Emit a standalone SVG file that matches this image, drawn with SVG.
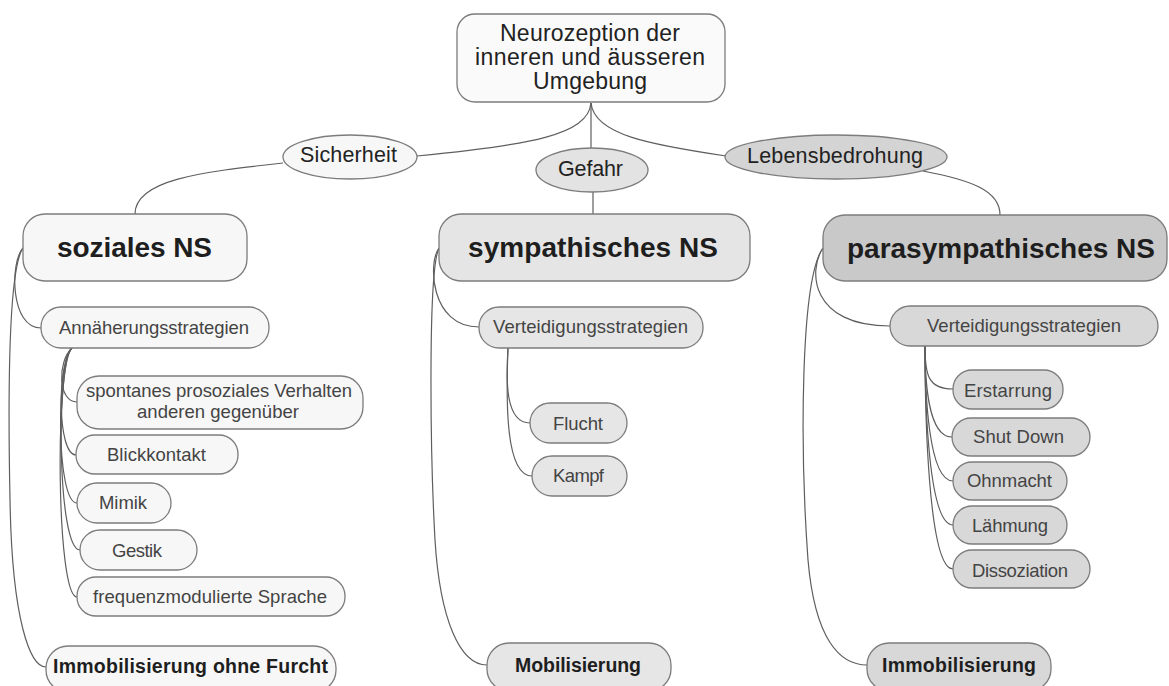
<svg xmlns="http://www.w3.org/2000/svg" width="1169" height="686" viewBox="0 0 1169 686">
<style>
.box{stroke:#7c7c7c;stroke-width:1.3}
.w{fill:#f7f7f7}.g1{fill:#e6e6e6}.g2{fill:#d8d8d8}.g3{fill:#c9c9c9}
.t{font-family:"Liberation Sans",Arial,sans-serif;text-anchor:middle}
.big{font-size:28px;font-weight:bold;fill:#1e1e1e}
.hd{font-size:23px;fill:#222}
.el{font-size:21.5px;fill:#222}
.c{font-size:18.5px;fill:#444}
.b{font-size:19.5px;font-weight:bold;fill:#1e1e1e}
.con path{fill:none;stroke:#5e5e5e;stroke-width:1.2}
</style>
<rect width="1169" height="686" fill="#ffffff"/>
<g class="con" id="connectors">
<path d="M591,103 C588,135 530,145 417,156"/>
<path d="M591,103 L591,148"/>
<path d="M591,103 C594,135 652,145 726,156"/>
<path d="M283,163 C200,172 135,180 135,214"/>
<path d="M593,192 L593,214"/>
<path d="M923,171 C970,180 1000,190 1000,215"/>
<path d="M23,248 C10,262 10,328 41,328"/>
<path d="M23,248 C8,270 8,400 10,500 C12,620 30,667 46,667"/>
<path d="M72,348 C57,362 58,402 77,402"/>
<path d="M72,348 C57,362 57,455 76,455"/>
<path d="M72,348 C56,362 56,503 77,503"/>
<path d="M72,348 C56,362 57,550 80,550"/>
<path d="M72,348 C55,362 56,597 77,597"/>
<path d="M439,248 C428,262 430,327 479,327"/>
<path d="M439,248 C428,270 430,450 435,540 C440,620 460,665 487,665"/>
<path d="M508,348 C506,380 505,423 530,423"/>
<path d="M508,348 C506,400 505,476 532,476"/>
<path d="M823,248 C808,270 810,326 890,326"/>
<path d="M823,248 C800,280 800,450 808,560 C815,640 840,665 867,665"/>
<path d="M925,346 C925,375 928,389 953,389"/>
<path d="M925,346 C925,380 928,437 952,437"/>
<path d="M925,346 C925,390 928,481 953,481"/>
<path d="M925,346 C925,400 928,525 953,525"/>
<path d="M925,346 C925,410 928,569 953,569"/>
</g>
<g id="root"><rect class="box" x="457" y="14" width="268" height="88" rx="18" fill="#fafafa"/>
<text class="t hd" x="590" y="41" textLength="180">Neurozeption der</text>
<text class="t hd" x="590" y="65" textLength="230">inneren und äusseren</text>
<text class="t hd" x="590" y="89" textLength="114">Umgebung</text></g>
<g id="sicherheit"><ellipse class="box w" cx="350" cy="157" rx="67" ry="22"/><text class="t el" x="348.5" y="162" textLength="97">Sicherheit</text></g>
<g id="gefahr"><ellipse class="box" fill="#e3e3e3" cx="592" cy="170" rx="56" ry="22"/><text class="t el" x="590.5" y="176" textLength="65">Gefahr</text></g>
<g id="lebensbedrohung"><ellipse class="box" fill="#d4d4d4" cx="836" cy="157" rx="111" ry="22"/><text class="t el" x="835" y="163" textLength="176">Lebensbedrohung</text></g>
<g id="soziales"><rect class="box w" x="23" y="214" width="224" height="67" rx="22"/><text class="t big" x="134.5" y="257" textLength="155">soziales NS</text></g>
<g id="sympathisches"><rect class="box" fill="#e5e5e5" x="439" y="214" width="311" height="67" rx="22"/><text class="t big" x="593" y="257" textLength="250">sympathisches NS</text></g>
<g id="parasympathisches"><rect class="box g3" x="823" y="215" width="344" height="66" rx="22"/><text class="t big" x="1001" y="258" textLength="308">parasympathisches NS</text></g>
<g id="annaeherung"><rect class="box w" x="41" y="307" width="228" height="41" rx="20"/><text class="t c" x="154" y="334" textLength="190">Annäherungsstrategien</text></g>
<g id="spontanes"><rect class="box w" x="77" y="376" width="286" height="53" rx="22"/><text class="t c" x="219" y="397" textLength="266">spontanes prosoziales Verhalten</text><text class="t c" x="218" y="418" textLength="162">anderen gegenüber</text></g>
<g id="blickkontakt"><rect class="box w" x="76" y="435" width="162" height="39" rx="19"/><text class="t c" x="156.5" y="461" textLength="99">Blickkontakt</text></g>
<g id="mimik"><rect class="box w" x="77" y="483" width="94" height="40" rx="20"/><text class="t c" x="123" y="509" textLength="48">Mimik</text></g>
<g id="gestik"><rect class="box w" x="80" y="530" width="117" height="40" rx="20"/><text class="t c" x="137" y="557" textLength="50">Gestik</text></g>
<g id="frequenz"><rect class="box w" x="77" y="577" width="268" height="39" rx="19"/><text class="t c" x="210" y="603" textLength="234">frequenzmodulierte Sprache</text></g>
<g id="immob-ohne-furcht"><rect class="box w" x="46" y="646" width="290" height="46" rx="22"/><text class="t b" x="190.5" y="673" textLength="275">Immobilisierung ohne Furcht</text></g>
<g id="verteidigung-sym"><rect class="box g1" x="479" y="307" width="224" height="41" rx="20"/><text class="t c" x="590.5" y="333" textLength="195">Verteidigungsstrategien</text></g>
<g id="flucht"><rect class="box g1" x="530" y="403" width="97" height="40" rx="20"/><text class="t c" x="578" y="430" textLength="50">Flucht</text></g>
<g id="kampf"><rect class="box g1" x="532" y="456" width="95" height="40" rx="20"/><text class="t c" x="578.5" y="482" textLength="51">Kampf</text></g>
<g id="mobilisierung"><rect class="box g1" x="487" y="643" width="184" height="48" rx="22"/><text class="t b" x="578" y="672" textLength="126">Mobilisierung</text></g>
<g id="verteidigung-para"><rect class="box g2" x="890" y="306" width="268" height="40" rx="20"/><text class="t c" x="1024" y="332" textLength="194">Verteidigungsstrategien</text></g>
<g id="erstarrung"><rect class="box g2" x="953" y="370" width="110" height="39" rx="19"/><text class="t c" x="1008" y="397" textLength="88">Erstarrung</text></g>
<g id="shutdown"><rect class="box g2" x="952" y="418" width="138" height="38" rx="19"/><text class="t c" x="1018.5" y="443" textLength="91">Shut Down</text></g>
<g id="ohnmacht"><rect class="box g2" x="953" y="462" width="114" height="38" rx="19"/><text class="t c" x="1009.5" y="487" textLength="85">Ohnmacht</text></g>
<g id="laehmung"><rect class="box g2" x="953" y="506" width="114" height="38" rx="19"/><text class="t c" x="1010" y="532" textLength="76">Lähmung</text></g>
<g id="dissoziation"><rect class="box g2" x="953" y="550" width="137" height="38" rx="19"/><text class="t c" x="1020" y="577" textLength="96">Dissoziation</text></g>
<g id="immobilisierung"><rect class="box g2" x="867" y="643" width="184" height="48" rx="22"/><text class="t b" x="959" y="672" textLength="154">Immobilisierung</text></g>
</svg>
